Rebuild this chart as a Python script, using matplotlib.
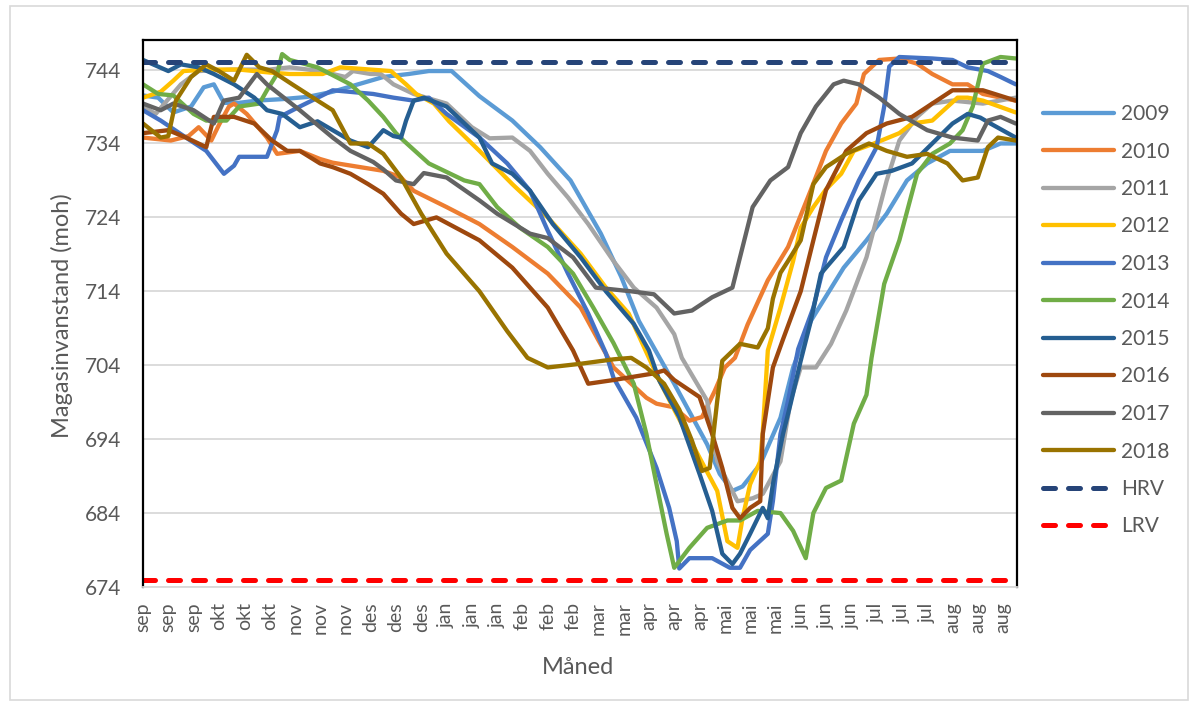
import matplotlib
matplotlib.use("Agg")
import matplotlib.pyplot as plt
from matplotlib.patches import Rectangle

plt.rcParams['font.family'] = ['Lato', 'DejaVu Sans']

# day index from 1 sep, one label every 10th day
months = ['sep'] * 3 + ['okt'] * 3 + ['nov'] * 3 + ['des'] * 3 + ['jan'] * 3 + \
         ['feb'] * 3 + ['mar'] * 2 + ['apr'] * 3 + ['mai'] * 3 + ['jun'] * 3 + \
         ['jul'] * 3 + ['aug'] * 3
tick_days = [10 * i for i in range(len(months))]
yticks = list(range(674, 745, 10))

hrv = 745
lrv = 675
ref_days = [0, 345]

x2009 = [0, 6, 12, 19, 24, 28, 32, 38, 45, 55, 65, 75, 85, 95, 105, 113, 122, 133, 146, 157,
         169, 181, 189, 196, 210, 223, 228, 233, 237, 244, 252, 257, 264, 277, 286, 294, 302, 310, 319, 332,
         339, 345]
y2009 = [740.5, 740.2, 738.2, 739, 741.6, 742, 739.5, 739.5, 739.8, 740, 740.3, 741, 742, 743, 743.4, 743.8,
         743.8, 740.4, 737.1, 733.5, 729, 721.8, 716, 710, 701.5, 693.3, 689.3, 687, 687.6, 690.6, 696.9, 703.7,
         710, 717.2, 720.9, 724.5, 729, 731.3, 733, 733, 734, 734]

x2010 = [0, 11, 18, 22, 27, 30, 34, 36, 41, 49, 53, 62, 70, 75, 95, 102, 107, 120, 133, 146,
         160, 173, 180, 186, 199, 203, 210, 216, 221, 226, 230, 234, 239, 247, 255, 264, 270, 276, 282, 285,
         291, 299, 306, 312, 320, 326, 332, 345]
y2010 = [734.8, 734.4, 735, 736.2, 734.4, 736.5, 739, 739.4, 738, 734.8, 732.6, 733, 731.9, 731.4, 730.3,
         729.4, 727.6, 725.4, 723.1, 720, 716.4, 711.8, 707.4, 703.7, 699.6, 698.8, 698.3, 696.5, 697, 700.5,
         703.7, 705, 709.5, 715.5, 720, 727.7, 733, 736.7, 739.4, 743.4, 745.3, 745.5, 744.8, 743.4, 742, 742,
         740.7, 739.8]

x2011 = [0, 5, 10, 15, 22, 35, 50, 58, 70, 80, 83, 90, 94, 99, 107, 120, 130, 137, 146, 153,
         160, 168, 176, 186, 194, 203, 210, 213, 223, 227, 235, 241, 245, 252, 256, 260, 266, 272, 278, 286,
         294, 299, 306, 312, 320, 332, 345]
y2011 = [739, 738, 740, 742, 743.8, 744, 744, 744.3, 743.8, 743, 743.8, 743.4, 743.4, 742, 740.7, 739.4,
         736.2, 734.7, 734.8, 733, 729.9, 726.7, 723.1, 718.1, 714.5, 711.8, 708.2, 705, 699.2, 691, 685.6,
         686, 686.6, 691, 699.2, 703.7, 703.7, 706.9, 711.4, 718.6, 729, 734.4, 737.6, 739.4, 739.8, 739.4,
         740.2]

x2012 = [0, 7, 12, 16, 25, 38, 50, 58, 71, 78, 90, 98, 104, 108, 115, 121, 133, 146, 160, 173,
         183, 192, 196, 204, 210, 220, 227, 231, 235, 237, 240, 244, 245, 247, 252, 257, 260, 265, 270, 276,
         281, 289, 299, 304, 312, 322, 326, 332, 345]
y2012 = [740.2, 741, 742.5, 743.8, 744, 744, 743.6, 743.4, 743.4, 744.3, 744, 743.8, 742, 740.7, 739.4,
         737, 733, 728.5, 724, 719.1, 714.5, 711, 708, 702, 698, 691.5, 687, 680.2, 679.3, 683.3, 687.9, 691,
         695, 706, 711.8, 718.1, 722.6, 725.4, 727.8, 729.9, 733, 734, 735.4, 736.7, 737.1, 740.2, 740.2,
         739.8, 738.2]

x2013 = [0, 7, 17, 25, 32, 36, 38, 49, 53, 54, 62, 75, 91, 99, 107, 113, 120, 133, 144, 153,
         160, 168, 176, 183, 186, 195, 203, 208, 211, 212, 216, 225, 232, 236, 240, 247, 249, 252, 255, 259,
         265, 270, 276, 283, 290, 293, 295, 299, 312, 320, 326, 334, 339, 345]
y2013 = [738.5, 737.1, 734.8, 733, 729.9, 731, 732.2, 732.2, 735.8, 737.6, 739, 741.2, 740.7, 740.2, 739.8,
         740.2, 738, 734.8, 731.3, 727.6, 722.2, 716.4, 711, 705.6, 702.3, 696.9, 690.1, 684.7, 680.2, 676.5,
         677.9, 677.9, 676.6, 676.6, 679, 681.2, 685.6, 694.7, 699.2, 706.2, 711.8, 718.6, 723.6, 729, 733.5,
         739, 744.4, 745.7, 745.5, 745.3, 744.3, 743.8, 743, 742]

x2014 = [0, 6, 12, 20, 25, 33, 38, 46, 49, 53, 55, 58, 69, 82, 89, 95, 100, 103, 113, 127,
         133, 140, 149, 160, 170, 178, 186, 194, 199, 203, 207, 210, 216, 223, 231, 236, 243, 252, 257, 262,
         265, 270, 276, 281, 286, 288, 293, 299, 306, 312, 319, 324, 328, 332, 339, 345]
y2014 = [742, 740.7, 740.5, 738, 737.1, 737.1, 739, 739.4, 741.2, 743.4, 746.1, 745.3, 744.3, 742, 739.8,
         737.6, 735.4, 734.4, 731.3, 729, 728.5, 725.4, 722.6, 720, 716.4, 711.8, 707, 701.5, 694.7, 687.9,
         681.2, 676.6, 679.3, 682, 683, 683, 684.3, 684, 681.6, 677.9, 684, 687.4, 688.4, 696.1, 700, 705,
         715, 720.9, 729.9, 732.6, 734, 735.8, 739, 744.8, 745.7, 745.5]

x2015 = [0, 10, 15, 22, 28, 36, 44, 49, 55, 62, 69, 75, 82, 89, 95, 99, 102, 104, 107, 111,
         120, 133, 138, 146, 153, 162, 173, 183, 194, 200, 204, 212, 220, 225, 229, 233, 236, 240, 245, 247,
         249, 253, 256, 260, 264, 268, 277, 283, 290, 296, 304, 312, 320, 326, 331, 335, 345]
y2015 = [745.3, 743.8, 744.7, 744.3, 743.4, 742, 740.2, 738.5, 738, 736.2, 737, 735.8, 734.4, 733.5, 735.8,
         735, 734.8, 737.1, 739.8, 740.2, 739, 734.8, 731.3, 729.9, 727.6, 723.1, 718.6, 714, 709.6, 706, 702,
         697, 689.3, 684.3, 678.5, 677.1, 678.5, 681.2, 684.7, 683.3, 687.9, 694.7, 698.8, 704.6, 710, 716.4,
         720, 726.3, 729.9, 730.3, 731.3, 734, 736.7, 738, 737.5, 736.7, 734.8]

x2016 = [0, 10, 17, 25, 28, 36, 44, 51, 57, 62, 70, 75, 82, 89, 95, 102, 107, 116, 133, 146,
         160, 170, 176, 186, 202, 206, 210, 220, 225, 229, 233, 236, 240, 244, 245, 247, 249, 253, 260, 265,
         270, 278, 286, 294, 304, 312, 320, 332, 345]
y2016 = [735.4, 735.8, 734.8, 733.5, 737.6, 737.6, 736.7, 734.4, 733, 733, 731.3, 730.8, 729.9, 728.5, 727.2,
         724.5, 723.1, 724, 720.9, 717.2, 711.8, 706, 701.5, 702, 702.9, 703.3, 702, 699.7, 694.7, 690.1,
         684.7, 683.3, 684.7, 685.6, 694.7, 699.2, 703.7, 707.5, 714, 720.9, 727.7, 733, 735.4, 736.7, 737.6,
         739.4, 741.2, 741.2, 739.8]

x2017 = [0, 7, 12, 20, 28, 32, 38, 45, 49, 62, 75, 82, 91, 95, 100, 107, 111, 120, 133, 140,
         153, 160, 170, 179, 193, 202, 210, 217, 225, 233, 236, 241, 248, 255, 260, 266, 273, 277, 283, 291,
         299, 310, 320, 330, 334, 339, 345]
y2017 = [739.4, 738.5, 739.4, 738.5, 736.7, 739.8, 740.2, 743.4, 742, 738.5, 734.8, 733, 731.5, 730.5, 729,
         728.5, 730, 729.4, 726.3, 724.5, 721.8, 721.2, 718.6, 714.5, 714, 713.6, 711, 711.4, 713.2, 714.5,
         718.6, 725.4, 729, 730.8, 735.4, 739, 742, 742.5, 742, 740.2, 738, 735.8, 734.8, 734.4, 737.1,
         737.6, 736.7]

x2018 = [0, 7, 10, 13, 19, 25, 30, 36, 40, 41, 46, 51, 59, 69, 75, 82, 89, 95, 102, 110,
         120, 133, 144, 152, 160, 173, 186, 193, 199, 206, 212, 217, 221, 224, 227, 229, 236, 243, 247, 249,
         252, 255, 260, 265, 270, 278, 287, 294, 302, 310, 318, 324, 330, 334, 338, 345]
y2018 = [736.7, 734.8, 735, 739.8, 743, 744.7, 743.8, 742.5, 745.3, 746, 744.3, 743.8, 742, 739.8, 738.5,
         734, 734, 732.6, 729.4, 724.5, 719.1, 714, 708.6, 705, 703.7, 704.2, 704.8, 705, 703.7, 701.5, 698,
         693.8, 689.7, 690.1, 699.2, 704.6, 706.9, 706.4, 709, 713, 716.5, 718.1, 720.9, 728.5, 730.8, 732.6,
         734, 733, 732.2, 732.6, 731.3, 729, 729.4, 733.5, 734.8, 734.4]

years = ['2009', '2010', '2011', '2012', '2013', '2014', '2015', '2016', '2017', '2018']
xs = [x2009, x2010, x2011, x2012, x2013, x2014, x2015, x2016, x2017, x2018]
ys = [y2009, y2010, y2011, y2012, y2013, y2014, y2015, y2016, y2017, y2018]
colors = ['#5B9BD5', '#ED7D31', '#A5A5A5', '#FFC000', '#4472C4', '#70AD47',
          '#255E91', '#9E480E', '#636363', '#997300']

W, H = 1195, 706
fig = plt.figure(figsize=(W / 100, H / 100), dpi=100)
fig.patches.append(Rectangle((10 / W, 6 / H), 1178 / W, 694 / H, transform=fig.transFigure,
                             fill=False, edgecolor='#D9D9D9', lw=1.2))
ax = fig.add_axes([143 / W, 1 - 587 / H, (1017 - 143) / W, (587 - 40) / H])

ax.grid(axis='y', color='#D9D9D9', lw=1.3, zorder=0)
ax.set_axisbelow(True)

handles = []
for x, y, c, lab in zip(xs, ys, colors, years):
    h, = ax.plot(x, y, color=c, lw=3.1, solid_capstyle='round', solid_joinstyle='round', label=lab)
    handles.append(h)
h, = ax.plot(ref_days, [hrv, hrv], color='#264478', lw=3.6, dashes=(2.4, 2.6),
             dash_capstyle='round', label='HRV')
handles.append(h)
h, = ax.plot(ref_days, [lrv, lrv], color='#FF0000', lw=3.6, dashes=(2.4, 2.6),
             dash_capstyle='round', label='LRV')
handles.append(h)

ax.set_xlim(0, 345.5)
ax.set_ylim(674, 748)
ax.set_yticks(yticks)
ax.set_yticklabels([str(v) for v in yticks])
ax.set_xticks(tick_days)
ax.set_xticklabels(months, rotation=90)
ax.tick_params(axis='y', length=0, pad=16, labelsize=15, labelcolor='#595959')
ax.tick_params(axis='x', length=0, pad=11, labelsize=14, labelcolor='#595959')

for s in ['left', 'top', 'right']:
    ax.spines[s].set_color('black')
    ax.spines[s].set_linewidth(1.6)
ax.spines['bottom'].set_color('#D9D9D9')
ax.spines['bottom'].set_linewidth(1.3)

fig.text(62 / W, 1 - 316 / H, 'Magasinvanstand (moh)', rotation=90, ha='center', va='center',
         fontsize=17, color='#595959')
fig.text(578 / W, 1 - 667 / H, 'Måned', ha='center', va='center', fontsize=17, color='#595959')

fig.legend(handles=handles, loc='upper left', bbox_to_anchor=(1043 / W, 1 - 104 / H),
           frameon=False, fontsize=15, handlelength=3.4, handletextpad=0.35,
           labelspacing=0.84, borderpad=0, borderaxespad=0, labelcolor='#595959')

fig.savefig('out.png', dpi=100)
